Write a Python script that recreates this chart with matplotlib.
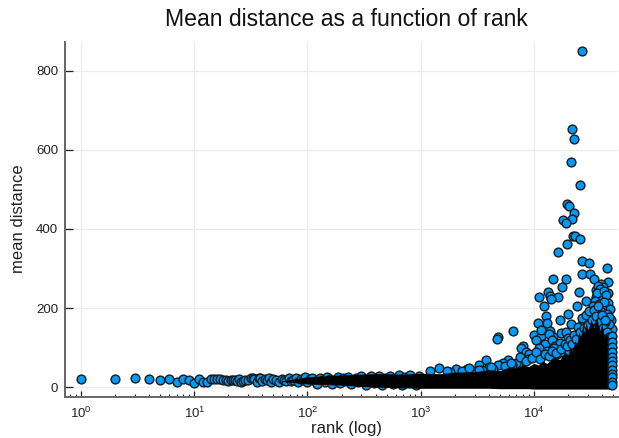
import matplotlib
matplotlib.use("Agg")
import matplotlib.pyplot as plt

plt.rcParams['font.family'] = ['Liberation Sans', 'DejaVu Sans']
plt.rcParams['mathtext.fontset'] = 'custom'
plt.rcParams['mathtext.rm'] = 'Liberation Sans'
plt.rcParams['mathtext.default'] = 'regular'

title = "Mean distance as a function of rank"
xlabel = "rank (log)"
ylabel = "mean distance"
yticks = [0, 200, 400, 600, 800]

# low and mid ranks
rank_low = [1, 2, 3, 4, 5, 6, 7, 8, 9, 10, 11, 12, 13, 14, 15, 16, 17, 18, 19, 20, 21, 22, 23, 24, 25, 26, 27, 28, 30, 32, 33, 34, 36, 37, 38, 40, 42, 44, 46, 48, 50, 53, 56, 59, 62, 65, 68, 71, 75, 79, 83, 87, 91, 95, 100, 105, 110, 116, 122, 128, 135, 142, 150, 158, 166, 175, 185, 195, 205, 216, 228, 240, 253, 267, 281, 296, 312, 329, 347, 365, 385, 405, 430, 455, 480, 510, 540, 570, 600, 640, 680, 720, 760, 810, 860, 910, 960]
dist_low = [20, 21, 22, 20, 19, 20, 13, 20, 18, 11, 20, 14, 13, 20, 20, 21, 20, 18, 17, 16, 18, 17, 19, 16, 21, 14, 16, 18, 19, 22, 23, 20, 12, 24, 22, 16, 20, 18, 22, 14, 21, 17, 13, 20, 18, 15, 22, 16, 19, 24, 14, 21, 17, 25, 12, 20, 23, 15, 9, 24, 18, 13, 26, 21, 8, 17, 25, 11, 22, 15, 26, 7, 19, 24, 12, 27, 16, 6, 22, 28, 10, 18, 27, 5, 24, 14, 29, 8, 21, 30, 6, 26, 12, 31, 18, 5, 29]

# ranks above the main mass
rank_high = [26650, 21600, 22800, 21300, 25600, 19500, 20500, 22500, 18000, 21900, 19200, 22100, 23200, 25500, 19700, 16500, 26900, 30400, 44100, 26900, 31500, 14900, 19300, 33900, 45400, 39400, 40700, 17900, 13300, 25100, 35100, 45100, 11100, 13900, 16400, 14300, 35600, 28600, 39400, 45100, 12300, 24200, 47500, 32700, 20000, 12900, 16900, 34100, 47900, 10800, 13100, 21400, 27100, 35100, 48900, 6600, 13900, 4810, 4710, 10100, 11600, 17400, 19300, 10500, 14700, 20000, 8100, 7730, 8550, 12200, 16300, 3790, 10100, 5890, 5320, 4810, 3270, 2580, 2060, 1440, 37000, 38500, 36200, 41500, 43000, 34500, 37500, 42000, 33000, 36800, 40000, 44000, 46500, 45800, 31000, 29500, 28000, 27000, 30000, 32000, 35000, 38000, 41000, 43500, 42500, 11500, 12500, 13500, 14500, 15500, 17000, 18500, 11000, 13000, 15000, 16000, 18000, 20500, 10300, 11800, 14000, 9400, 9000, 8800, 7300, 6900, 6400, 6000, 4400, 4000, 3500, 3000, 2300, 1800]
dist_high = [849, 652, 627, 569, 511, 464, 458, 441, 424, 425, 416, 382, 383, 375, 363, 343, 320, 314, 301, 285, 287, 273, 274, 274, 267, 262, 252, 252, 240, 240, 245, 237, 228, 231, 229, 222, 229, 219, 224, 213, 206, 206, 198, 192, 186, 181, 170, 174, 170, 163, 163, 159, 164, 161, 146, 142, 143, 127, 122, 133, 129, 136, 140, 119, 127, 123, 105, 98, 89, 109, 96, 68, 78, 68, 62, 56, 56, 47, 47, 48, 255, 248, 238, 242, 232, 218, 210, 215, 205, 198, 190, 185, 178, 160, 150, 140, 125, 118, 132, 155, 168, 175, 148, 135, 165, 145, 110, 135, 118, 104, 112, 100, 100, 92, 98, 85, 88, 92, 78, 82, 80, 78, 84, 70, 58, 62, 55, 52, 46, 50, 44, 42, 40, 38]

# dense black mass, outer limits
mass_rank = [60, 100, 200, 400, 700, 1000, 1500, 2000, 3000, 4000, 5000, 6000, 7000, 8000, 9000, 10000, 11000, 12000, 13000, 15000, 17000, 18500, 20000, 21000, 22000, 23000, 24000, 25000, 26000, 27000, 28000, 29000, 30000, 32000, 34000, 36000, 38000, 40000, 42000, 44000, 46000, 48000, 50500]
mass_top = [16, 26, 31, 34, 33, 35, 34, 38, 39, 44, 42, 50, 48, 56, 52, 60, 56, 66, 60, 74, 70, 86, 82, 100, 92, 118, 108, 140, 126, 160, 135, 165, 140, 172, 150, 178, 140, 160, 125, 140, 112, 96, 70]
mass_bot = [14, 8, 5, 0, -2, -3, -3, -3, -3, -3, -4, -4, -4, -4, -4, -5, -5, -5, -5, -5, -5, -5, -5, -5, -5, -5, -5, -5, -5, -5, -5, -5, -5, -5, -5, -5, -5, -5, -5, -5, -5, -6, -5]

# last ranks, drawn on top along the right edge
rank_last = [49200, 49300, 49400, 49300, 49200, 49300, 49400, 49300, 49200, 49300, 49400, 49300]
dist_last = [130, 115, 102, 88, 77, 66, 55, 43, 34, 25, 14, 5]

# extra marks along the jagged top of the mass
rank_edge = [1200, 1700, 2700, 3300, 4200, 5600, 6300, 7600, 8500, 9600, 10400, 11300, 12600, 13600, 14500, 15600, 17200, 18700, 19800, 20800, 21700, 22700, 23600, 24700, 25700, 26700, 27800, 28800, 29800, 31000, 32500, 33800, 35300, 36800, 38200, 39800, 41200, 42800, 44500, 46200, 47400]
dist_edge = [42, 40, 48, 44, 52, 54, 60, 76, 66, 74, 88, 72, 84, 78, 92, 86, 96, 110, 104, 118, 108, 132, 122, 152, 140, 176, 150, 182, 158, 192, 170, 196, 180, 204, 165, 182, 150, 170, 140, 128, 118]

fig = plt.figure(figsize=(6.19, 4.38), dpi=100)
ax = fig.add_axes([65 / 619, 1 - 397 / 438, (618 - 65) / 619, (397 - 42) / 438])
blue = '#009AFA'
kw = dict(s=40, c=blue, edgecolors='#1a1a1a', linewidths=1.0)
ax.scatter(rank_low, dist_low, zorder=3, **kw)
ax.scatter(rank_high, dist_high, zorder=3, **kw)
ax.scatter(rank_edge, dist_edge, zorder=3, **kw)
ax.fill_between(mass_rank, mass_bot, mass_top, color='black', lw=0, zorder=4)
ax.scatter(rank_last, dist_last, zorder=5, **kw)

ax.set_xscale('log')
ax.set_xlim(0.72, 55400)
ax.set_ylim(-25, 873)
ax.set_yticks(yticks)
ax.set_xticks([1, 10, 100, 1000, 10000])
ax.minorticks_on()
ax.yaxis.set_tick_params(which='minor', left=False)
ax.grid(True, which='major', color='#ececec', lw=0.9)
ax.set_axisbelow(True)
ax.spines['top'].set_visible(False)
ax.spines['right'].set_visible(False)
for s in ('left', 'bottom'):
    ax.spines[s].set_color('#666666')
    ax.spines[s].set_linewidth(1.4)
ax.tick_params(axis='y', which='major', direction='in', length=6, width=0.9, color='#222222', labelsize=9.5, pad=5, labelcolor='#222222')
ax.tick_params(axis='x', which='major', direction='in', length=4, width=0.9, color='#222222', labelsize=9.5, pad=6, labelcolor='#222222')
ax.tick_params(axis='x', which='minor', direction='in', length=2.4, width=0.8, color='#222222')

fig.text(346 / 619, 1 - 20 / 438, title, ha='center', va='center', fontsize=16.6, color='#111111')
fig.text(347 / 619, 1 - 428 / 438, xlabel, ha='center', va='center', fontsize=12, color='#222222')
fig.text(19 / 619, 1 - 219 / 438, ylabel, ha='center', va='center', rotation=90, fontsize=12, color='#222222')

fig.savefig('out.png', dpi=100)
